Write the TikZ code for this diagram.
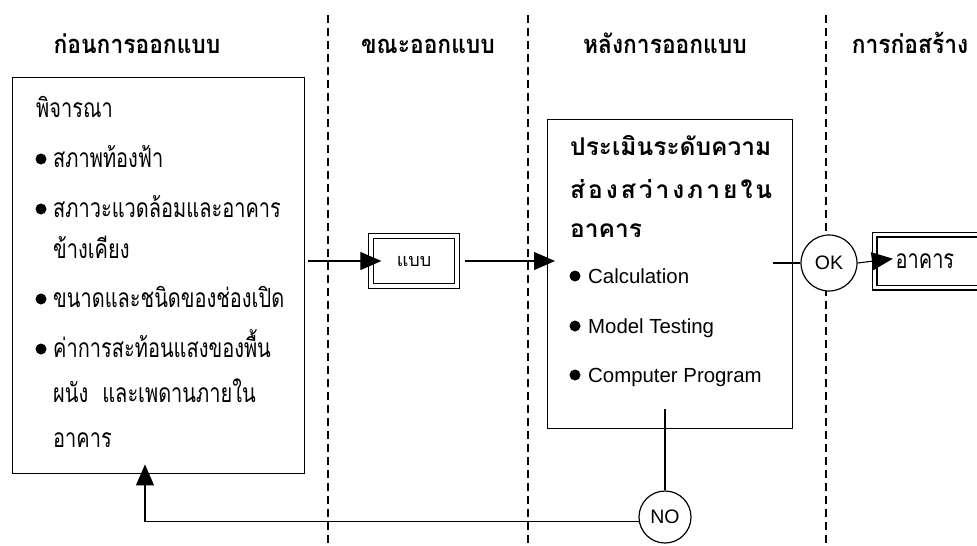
\documentclass[tikz,border=0pt]{standalone}
\usepackage{fontspec}
\usepackage{graphicx}
\setmainfont{Liberation Sans}
\newfontfamily\thai[Script=Thai]{Loma}
\newcommand{\tallA}[1]{\scalebox{1}[1.32]{#1}}
\newcommand{\tallB}[1]{\scalebox{1}[1.12]{#1}}
\usetikzlibrary{arrows.meta}
\begin{document}
\begin{tikzpicture}[x=1pt,y=-1pt,
  box/.style={draw, line width=1.4pt, inner sep=0pt},
  dbox/.style={draw, double, line width=1.2pt, double distance=3.6pt, inner sep=0pt},
  circ/.style={draw, circle, fill=white, line width=1.2pt, inner sep=0pt, font=\fontsize{19.5}{22}\selectfont},
  lane/.style={line width=1.3pt, dash pattern=on 8pt off 5pt},
  conn/.style={line width=1.1pt},
  arr/.style={conn, -{Triangle[length=21pt,width=18pt]}},
  th/.style={font=\thai\fontsize{20}{24}\selectfont, anchor=base west, inner sep=0pt},
  thb/.style={font=\thai\bfseries\fontsize{24.5}{28}\selectfont, anchor=base west, inner sep=0pt},
  hd/.style={font=\thai\bfseries\fontsize{22.8}{26}\selectfont, anchor=base, inner sep=0pt},
  en/.style={font=\fontsize{20.4}{24}\selectfont, anchor=base west, inner sep=0pt}
]
\useasboundingbox (0,0) rectangle (977,546);
\clip (0,0) rectangle (977,546);
% lanes
\draw[lane] (328,15) -- (328,546);
\draw[lane] (528,15) -- (528,546);
\draw[lane] (826,15) -- (826,546);
% headers
\node[hd] (h1) at (137,53) {\tallB{ก่อนการออกแบบ}};
\node[hd] (h2) at (428,53) {\tallB{ขณะออกแบบ}};
\node[hd] (h3) at (665,53) {\tallB{หลังการออกแบบ}};
\node[hd] (h4) at (910,53) {\tallB{การก่อสร้าง}};
% boxes
\node[box, anchor=north west, minimum width=292pt, minimum height=396pt] (L) at (12,77) {};
\node[box, anchor=north west, minimum width=245pt, minimum height=309pt] (R) at (547,119) {};
\node[dbox, minimum width=86pt, minimum height=50pt, font=\thai\fontsize{18}{20}\selectfont] (M) at (414,261) {แบบ};
\node[dbox, anchor=west, minimum height=53pt, text width=68pt, inner xsep=21pt, align=left, font=\thai\fontsize{20}{24}\selectfont] (B) at (874,261) {\tallA{อาคาร}};
\node[circ, minimum size=56pt] (OK) at (829,263) {OK};
\node[circ, minimum size=52pt] (NO) at (665,517) {NO};
% left box text
\node[th] (t0) at (36,117) {\tallA{พิจารณา}};
\fill (41,159) circle[radius=5.5pt];
\node[th] (t1) at (53,167) {\tallA{สภาพท้องฟ้า}};
\fill (41,209) circle[radius=5.5pt];
\node[th] (t2) at (53,217) {\tallA{สภาวะแวดล้อมและอาคาร}};
\node[th] (t3) at (53,258) {\tallA{ข้างเคียง}};
\fill (41,299) circle[radius=5.5pt];
\node[th] (t4) at (53,307) {\tallA{ขนาดและชนิดของช่องเปิด}};
\fill (41,349) circle[radius=5.5pt];
\node[th] (t5) at (53,357) {\tallA{ค่าการสะท้อนแสงของพื้น}};
\node[th] (t6) at (53,402) {\tallA{ผนัง\hspace{14pt}และเพดานภายใน}};
\node[th] (t7) at (53,447) {\tallA{อาคาร}};
% right box text
\node[thb] (s0) at (570,155) {ประเมินระดับความ};
\node[thb] (s1) at (570,198) {\makebox[202pt][l]{ส่\hfill อ\hfill ง\hfill ส\hfill ว่\hfill า\hfill ง\hfill ภ\hfill า\hfill ย\hfill ใ\hfill น}};
\node[thb] (s2) at (570,237) {อาคาร};
\fill (575,276) circle[radius=5.5pt];
\node[en] (e1) at (588,283) {Calculation};
\fill (575,326) circle[radius=5.5pt];
\node[en] (e2) at (588,333) {Model Testing};
\fill (575,375) circle[radius=5.5pt];
\node[en] (e3) at (588,382) {Computer Program};
% connectors
\coordinate (c1) at (145,522);
\draw[arr, shorten <=3pt, shorten >=-11pt] (L.east |- M.west) -- (M.west);
\draw[arr, shorten <=7pt, shorten >=-8pt] (M.east) -- (R.west |- M.east);
\draw[conn, shorten <=-20pt] (R.east |- OK.west) -- (OK.west);
\draw[arr, shorten >=-19pt] (OK.east) -- (B.west);
\draw[conn, shorten <=-20pt] (R.south -| NO) -- (NO.north);
\draw[arr, shorten >=-10pt] (NO.190) -| (L.south -| c1);
\end{tikzpicture}
\end{document}
